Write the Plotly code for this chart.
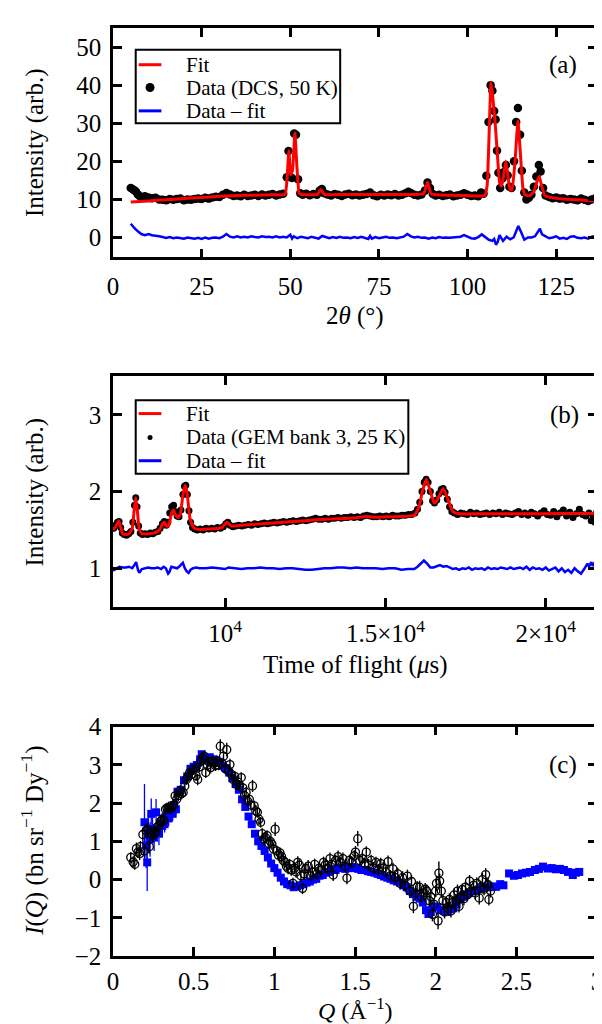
import plotly.graph_objects as go

# ---------------- panel (a): DCS, 50 K ----------------
tth_data = [5, 5.5, 6, 6.5, 7, 7.5, 8, 9, 10, 11,
            12, 13, 14, 15, 16, 17, 18, 19, 20, 21,
            22, 23, 24, 25, 26, 27, 28, 29, 30, 31,
            32, 33, 34, 35, 36, 37, 38, 39, 40, 41,
            42, 43, 44, 45, 46, 47, 48, 49.0, 49.5, 50.0,
            50.5, 51.1, 51.6, 52.2, 52.8, 53.5, 54.5, 55.5, 56.5, 57.5,
            58.3, 58.9, 59.6, 60.5, 61.5, 62.5, 63.5, 64.5, 65.5, 66.5,
            67.5, 68.5, 69.5, 70.5, 71.5, 72.5, 73.5, 74.5, 75.5, 76.5,
            77.5, 78.5, 79.5, 80.5, 81.5, 82.5, 83.3, 84, 85, 86,
            87, 88, 88.7, 89.4, 90.2, 91, 92, 93, 94, 95,
            96, 97, 98, 99, 100, 101, 102, 103, 103.8, 104.5,
            105.3, 105.9, 106.5, 107.0, 107.5, 107.9, 108.3, 108.7, 109.2, 109.8,
            110.3, 110.8, 111.3, 111.8, 112.4, 113.1, 113.7, 114.2, 114.8, 115.3,
            116.0, 116.6, 117.3, 118.0, 118.7, 119.4, 120.1, 120.6, 121.3, 122.0,
            123, 124, 125, 126, 127, 128, 129, 130, 131, 132,
            133, 134, 135, 136]
int_data = [13.0, 12.7, 12.4, 12.0, 11.3, 10.9, 10.6, 10.8, 10.5, 10.3,
            10.4, 10.0, 9.9, 9.8, 10.1, 9.9, 10.1, 10.2, 9.8, 10.0,
            9.9, 10.1, 10.2, 10.1, 10.4, 10.2, 10.5, 10.7, 10.6, 11.2,
            11.7, 11.3, 10.9, 11.0, 10.8, 11.2, 10.9, 11.0, 11.2, 10.9,
            11.3, 11.0, 11.2, 11.4, 11.0, 11.3, 11.5, 15.8, 22.7, 15.9,
            15.6, 27.3, 27.0, 15.3, 11.6, 11.2, 11.5, 11.1, 11.4, 11.2,
            12.3, 12.7, 11.6, 11.3, 11.0, 11.4, 11.2, 10.9, 11.3, 11.5,
            11.1, 11.3, 11.0, 11.2, 11.4, 11.8, 11.1, 10.8, 11.2, 11.0,
            11.3, 11.1, 11.4, 11.0, 11.2, 11.6, 12.0, 11.7, 11.2, 11.0,
            11.3, 12.3, 14.4, 13.0, 11.4, 11.0, 11.2, 10.9, 11.1, 11.3,
            10.8, 11.0, 11.2, 11.6, 11.2, 10.9, 11.0, 10.8, 11.8, 11.5,
            16.2, 30.3, 40.0, 38.5, 33.2, 31.0, 22.8, 17.0, 13.0, 15.5,
            17.2, 19.0, 16.3, 13.3, 13.0, 20.0, 30.3, 34.0, 27.0, 17.5,
            11.8, 10.0, 10.4, 11.2, 13.3, 16.0, 19.0, 17.3, 13.0, 11.0,
            10.6, 10.3, 10.5, 10.2, 10.3, 9.9, 10.1, 10.0, 9.8, 10.2,
            9.9, 9.6, 10.0, 10.3]

tth_fit = [5, 10, 15, 20, 25, 30, 35, 40, 45, 48.5,
           49.1, 49.6, 50.1, 50.6, 51.3, 51.9, 52.5, 53, 57.6, 58.6,
           59.6, 65, 75, 85, 87.6, 88.7, 89.8, 95, 100, 104.8,
           105.5, 106.0, 106.6, 107.1, 107.7, 108.4, 109.1, 109.6, 110.2, 110.8,
           111.4, 112.0, 112.5, 113.3, 114.2, 114.9, 115.6, 116.2, 117.5, 118.7,
           119.5, 120.2, 120.9, 121.8, 123, 127, 131, 136.5]
int_fit = [9.3, 9.6, 9.9, 10.2, 10.5, 10.8, 11.0, 11.1, 11.2, 11.3,
           15.5, 22.8, 16.5, 17.5, 27.4, 18.0, 11.6, 11.3, 11.3, 12.6,
           11.3, 11.3, 11.3, 11.3, 11.5, 14.5, 11.4, 11.1, 11.0, 11.0,
           13.5, 25.0, 40.7, 37.0, 31.0, 22.0, 14.0, 13.5, 16.5, 20.0,
           16.0, 12.5, 12.5, 19.0, 30.5, 22.0, 13.0, 11.2, 11.0, 12.0,
           14.5, 16.1, 13.5, 11.0, 10.6, 10.1, 9.9, 9.5]

tth_diff = [5, 5.5, 6, 7, 8, 9, 10, 11, 12, 13,
            14, 15, 16, 17, 18, 19, 20, 21, 22, 23,
            24, 25, 26, 27, 28, 29, 30, 31, 32, 33,
            34, 35, 36, 37, 38, 39, 40, 41, 42, 43,
            44, 45, 46, 47, 48, 49, 50, 50.5, 51, 52,
            53, 54, 55, 56, 57, 58, 59, 60, 61, 62,
            63, 64, 65, 66, 67, 68, 69, 70, 71, 72,
            72.5, 73, 74, 75, 76, 77, 78, 79, 80, 81,
            82, 83, 84, 85, 86, 87, 88, 89, 90, 91,
            92, 93, 94, 95, 96, 97, 98, 99, 100, 101,
            102, 103, 104, 105, 106, 107, 107.5, 108, 108.5, 109,
            109.5, 110, 111, 112, 113, 113.8, 114.3, 115, 116, 117,
            118, 119, 119.8, 120.4, 121, 122, 123, 124, 125, 126,
            127, 128, 129, 130, 131, 132, 133, 134, 135, 136]
int_diff = [3.6, 3.0, 2.5, 1.6, 0.9, 0.6, 0.9, 0.6, 0.5, 0.3,
            0.1, -0.1, 0.1, -0.2, 0.0, -0.1, -0.3, 0.0, -0.2, -0.3,
            -0.1, -0.4, 0.0, -0.3, -0.1, 0.0, -0.2, 0.2, 0.9, 0.2,
            0.0, 0.3, 0.0, 0.2, 0.0, 0.3, 0.1, 0.0, 0.3, 0.1,
            0.2, 0.0, 0.3, 0.0, 0.2, 0.0, 0.7, -0.3, 0.3, -0.2,
            0.2, 0.0, -0.2, 0.2, 0.0, -0.3, 0.4, 0.0, -0.2, 0.1,
            -0.1, 0.2, -0.1, 0.0, -0.2, 0.1, -0.1, 0.2, 0.0, -0.4,
            0.4, -0.3, 0.1, -0.2, 0.0, 0.2, -0.1, 0.0, -0.2, 0.1,
            0.2, 0.9, 0.3, 0.0, 0.2, -0.1, 0.0, -0.3, 0.0, -0.2,
            0.1, -0.1, 0.0, -0.1, 0.0, 0.1, 0.2, 0.6, 0.1, -0.2,
            -0.3, 0.1, 0.8, 0.2, -0.6, -0.9, -0.4, -1.9, -1.2, 0.6,
            -0.3, -0.9, 0.2, -0.5, 0.0, 2.2, 3.0, 1.6, -0.6, 0.0,
            0.0, 0.3, 1.6, 2.3, 0.8, 0.3, -0.2, 0.0, 0.3, -0.3,
            -0.1, -0.4, 0.2, 0.3, -0.1, -0.2, 0.0, -0.3, 0.2, 0.4]

# ---------------- panel (b): GEM bank 3, 25 K ----------------
tof_data = [6520, 6580, 6640, 6690, 6740, 6790, 6850, 6920, 6990, 7060,
            7120, 7170, 7210, 7250, 7300, 7350, 7420, 7500, 7580, 7660,
            7740, 7820, 7900, 7970, 8040, 8100, 8160, 8210, 8270, 8330,
            8390, 8440, 8500, 8560, 8620, 8680, 8730, 8770, 8820, 8870,
            8920, 8980, 9050, 9130, 9220, 9310, 9400, 9490, 9580, 9670,
            9760, 9850, 9940, 10020, 10080, 10150, 10240, 10330, 10420, 10520,
            10620, 10720, 10820, 10920, 11020, 11120, 11220, 11320, 11420, 11520,
            11620, 11720, 11820, 11920, 12020, 12120, 12220, 12320, 12420, 12520,
            12620, 12720, 12820, 12920, 13020, 13120, 13220, 13320, 13420, 13520,
            13620, 13720, 13820, 13920, 14020, 14120, 14220, 14320, 14420, 14520,
            14620, 14720, 14820, 14920, 15020, 15120, 15220, 15320, 15420, 15520,
            15620, 15720, 15820, 15920, 16000, 16070, 16140, 16210, 16270, 16330,
            16400, 16470, 16530, 16600, 16670, 16740, 16800, 16860, 16930, 17000,
            17070, 17150, 17250, 17350, 17450, 17550, 17650, 17750, 17850, 17950,
            18050, 18150, 18250, 18350, 18450, 18550, 18650, 18750, 18850, 18950,
            19050, 19150, 19250, 19350, 19450, 19550, 19650, 19750, 19850, 19950,
            20050, 20150, 20250, 20350, 20450, 20550, 20650, 20750, 20850, 20950,
            21050, 21150, 21250, 21350, 21420, 21480, 21540, 21590]
gem_data = [1.52, 1.56, 1.60, 1.61, 1.53, 1.46, 1.44, 1.43, 1.45, 1.48,
            1.60, 1.82, 1.92, 1.80, 1.55, 1.46, 1.44, 1.45, 1.44, 1.46,
            1.45, 1.47, 1.48, 1.52, 1.58, 1.61, 1.56, 1.60, 1.72, 1.80,
            1.82, 1.74, 1.68, 1.67, 1.76, 1.96, 2.07, 2.08, 1.96, 1.75,
            1.60, 1.53, 1.51, 1.50, 1.51, 1.50, 1.52, 1.51, 1.52, 1.51,
            1.53, 1.52, 1.54, 1.58, 1.60, 1.56, 1.54, 1.55, 1.56, 1.55,
            1.56, 1.57, 1.56, 1.58, 1.57, 1.58, 1.59, 1.58, 1.59, 1.60,
            1.59, 1.60, 1.61, 1.60, 1.61, 1.62, 1.61, 1.62, 1.63, 1.62,
            1.63, 1.64, 1.65, 1.64, 1.64, 1.65, 1.64, 1.65, 1.65, 1.66,
            1.65, 1.66, 1.66, 1.67, 1.66, 1.67, 1.66, 1.68, 1.69, 1.68,
            1.67, 1.67, 1.68, 1.67, 1.68, 1.67, 1.69, 1.68, 1.68, 1.69,
            1.69, 1.70, 1.70, 1.72, 1.77, 1.86, 2.00, 2.12, 2.16, 2.12,
            2.00, 1.88, 1.85, 1.89, 1.97, 2.03, 2.04, 1.99, 1.90, 1.80,
            1.74, 1.72, 1.70, 1.72, 1.71, 1.70, 1.73, 1.71, 1.72, 1.70,
            1.71, 1.72, 1.70, 1.72, 1.71, 1.73, 1.70, 1.72, 1.71, 1.70,
            1.72, 1.74, 1.70, 1.72, 1.69, 1.73, 1.71, 1.68, 1.72, 1.75,
            1.70, 1.69, 1.74, 1.67, 1.72, 1.76, 1.68, 1.73, 1.66, 1.71,
            1.77, 1.70, 1.68, 1.72, 1.62, 1.65, 1.60, 1.73]

tof_fit = [6500, 6600, 6680, 6750, 6800, 6900, 7000, 7100, 7170, 7212,
           7260, 7320, 7400, 7600, 7800, 7950, 8050, 8100, 8160, 8230,
           8330, 8390, 8450, 8530, 8600, 8680, 8755, 8820, 8900, 9000,
           9100, 9500, 9900, 10050, 10200, 10500, 11000, 11500, 12000, 12500,
           13000, 13500, 14000, 14400, 14700, 15000, 15500, 15900, 16050, 16150,
           16280, 16400, 16520, 16600, 16800, 16950, 17100, 17300, 18000, 19000,
           20000, 21000, 21600]
gem_fit = [1.50, 1.55, 1.62, 1.52, 1.45, 1.44, 1.45, 1.52, 1.80, 1.92,
           1.75, 1.50, 1.45, 1.45, 1.46, 1.50, 1.58, 1.60, 1.55, 1.55,
           1.72, 1.76, 1.70, 1.66, 1.70, 1.95, 2.08, 1.95, 1.65, 1.54,
           1.51, 1.51, 1.53, 1.60, 1.55, 1.56, 1.575, 1.59, 1.605, 1.62,
           1.635, 1.645, 1.655, 1.675, 1.665, 1.67, 1.675, 1.69, 1.80, 2.00,
           2.16, 2.00, 1.85, 1.88, 2.04, 1.90, 1.74, 1.71, 1.71, 1.71,
           1.71, 1.715, 1.715]

tof_diff = [6500, 6600, 6700, 6800, 6900, 7000, 7100, 7180, 7220, 7280,
            7320, 7400, 7500, 7600, 7700, 7800, 7900, 8000, 8080, 8150,
            8220, 8260, 8320, 8400, 8500, 8560, 8620, 8680, 8740, 8800,
            8860, 8920, 9000, 9100, 9200, 9400, 9600, 9800, 10000, 10100,
            10300, 10500, 10700, 10900, 11100, 11300, 11500, 11700, 11900, 12100,
            12300, 12500, 12700, 12900, 13100, 13300, 13500, 13700, 13900, 14100,
            14300, 14500, 14700, 14900, 15100, 15300, 15500, 15700, 15900, 16000,
            16100, 16200, 16300, 16400, 16500, 16600, 16700, 16800, 16900, 17000,
            17100, 17200, 17300, 17400, 17500, 17600, 17700, 17800, 17900, 18000,
            18100, 18200, 18300, 18400, 18500, 18600, 18700, 18800, 18900, 19000,
            19100, 19200, 19300, 19400, 19500, 19600, 19700, 19800, 19900, 20000,
            20100, 20200, 20300, 20400, 20500, 20600, 20700, 20800, 20900, 21000,
            21100, 21200, 21300, 21350, 21420, 21470, 21530, 21600]
gem_diff = [0.97, 0.99, 1.02, 1.01, 1.01, 1.02, 1.00, 1.05, 1.08, 0.98,
            0.94, 0.99, 1.00, 1.01, 1.00, 1.00, 1.01, 0.99, 1.02, 1.00,
            0.93, 0.95, 1.02, 1.01, 1.00, 1.02, 1.05, 1.07, 1.00, 0.96,
            0.94, 0.98, 1.00, 1.01, 1.00, 1.00, 1.01, 1.00, 0.99, 1.01,
            1.00, 0.99, 1.00, 1.00, 1.01, 1.00, 1.00, 0.99, 1.00, 1.00,
            0.99, 0.98, 0.98, 0.99, 1.00, 1.00, 1.01, 1.01, 1.00, 1.01,
            1.00, 1.00, 1.00, 0.99, 1.00, 1.00, 0.98, 0.99, 0.99, 1.02,
            1.06, 1.10, 1.06, 1.01, 1.01, 1.03, 1.04, 1.02, 1.03, 1.01,
            0.99, 1.00, 0.98, 1.00, 0.99, 1.01, 0.98, 1.00, 0.99, 1.00,
            0.98, 1.01, 0.99, 1.00, 0.99, 1.01, 1.00, 0.99, 1.01, 0.99,
            1.00, 1.01, 0.99, 1.02, 0.98, 1.01, 0.99, 1.00, 0.98, 1.01,
            0.97, 0.99, 1.01, 0.96, 1.00, 0.95, 0.98, 0.94, 1.00, 0.96,
            0.93, 0.99, 1.06, 1.02, 1.08, 1.03, 1.08, 0.98]
tof_tickvals = [10000, 15000, 20000]
tof_ticktext = ["10<sup>4</sup>", "1.5×10<sup>4</sup>", "2×10<sup>4</sup>"]

# ---------------- panel (c): I(Q) ----------------
q_gem = [0.195, 0.205, 0.212, 0.22, 0.23, 0.237, 0.245, 0.255, 0.267, 0.275,
         0.285, 0.295, 0.305, 0.32, 0.335, 0.345, 0.355, 0.37, 0.38, 0.39,
         0.40, 0.42, 0.44, 0.46, 0.48, 0.50, 0.52, 0.54, 0.55, 0.56,
         0.58, 0.60, 0.62, 0.64, 0.66, 0.68, 0.70, 0.72, 0.74, 0.76,
         0.78, 0.80, 0.82, 0.84, 0.86, 0.88, 0.90, 0.92, 0.94, 0.96,
         0.98, 1.00, 1.02, 1.04, 1.06, 1.08, 1.10, 1.12, 1.14, 1.16,
         1.18, 1.20, 1.22, 1.24, 1.26, 1.28, 1.30, 1.32, 1.34, 1.36,
         1.38, 1.40, 1.42, 1.44, 1.46, 1.48, 1.50, 1.52, 1.54, 1.56,
         1.58, 1.60, 1.62, 1.64, 1.66, 1.68, 1.70, 1.72, 1.74, 1.76,
         1.78, 1.80, 1.82, 1.84, 1.86, 1.88, 1.90, 1.92, 1.94, 1.955,
         1.97, 1.99, 2.01, 2.03, 2.05, 2.07, 2.09, 2.11, 2.13, 2.15,
         2.17, 2.19, 2.21, 2.23, 2.25, 2.27, 2.29, 2.31, 2.33, 2.35,
         2.375, 2.40, 2.42, 2.455, 2.485, 2.51, 2.535, 2.56, 2.585, 2.615,
         2.64, 2.665, 2.695, 2.72, 2.745, 2.77, 2.795, 2.82, 2.85, 2.87,
         2.89]
iq_gem = [1.50, 0.90, 0.45, 1.20, 1.05, 1.72, 1.30, 1.10, 1.76, 1.30,
          1.20, 1.45, 1.40, 1.45, 1.75, 1.60, 1.85, 1.72, 1.95, 1.84,
          2.30, 2.35, 2.60, 2.70, 2.90, 2.95, 3.00, 3.15, 3.28, 3.20,
          3.12, 3.20, 3.15, 3.12, 3.05, 2.98, 2.92, 2.80, 2.65, 2.50,
          2.35, 2.10, 1.90, 1.65, 1.45, 1.20, 1.00, 0.88, 0.75, 0.58,
          0.42, 0.30, 0.18, 0.05, -0.05, -0.12, -0.15, -0.20, -0.18, -0.15,
          -0.12, -0.08, -0.05, 0.00, 0.02, 0.10, 0.12, 0.18, 0.20, 0.28,
          0.25, 0.30, 0.32, 0.28, 0.30, 0.33, 0.30, 0.28, 0.25, 0.25,
          0.22, 0.20, 0.18, 0.15, 0.12, 0.08, 0.05, 0.02, -0.02, -0.05,
          -0.08, -0.15, -0.20, -0.30, -0.38, -0.45, -0.50, -0.60, -0.80, -0.90,
          -0.85, -0.70, -0.72, -0.80, -0.82, -0.85, -0.78, -0.75, -0.65, -0.50,
          -0.45, -0.40, -0.35, -0.30, -0.28, -0.25, -0.22, -0.20, -0.20, -0.18,
          -0.19, -0.12, -0.15, 0.16, 0.10, 0.12, 0.16, 0.18, 0.20, 0.25,
          0.28, 0.34, 0.29, 0.30, 0.27, 0.28, 0.25, 0.20, 0.12, 0.18,
          0.20]
iq_gem_err = [1.00, 0.60, 0.75, 0.50, 0.45, 0.40, 0.35, 0.35, 0.35, 0.30,
              0.30, 0.25, 0.25, 0.22, 0.20, 0.20, 0.20, 0.18, 0.16, 0.15,
              0.14, 0.12, 0.11, 0.10, 0.10, 0.09, 0.09, 0.09, 0.08, 0.08,
              0.08, 0.08, 0.08, 0.08, 0.08, 0.08, 0.08, 0.08, 0.08, 0.08,
              0.08, 0.08, 0.08, 0.08, 0.08, 0.08, 0.08, 0.08, 0.08, 0.08,
              0.08, 0.08, 0.08, 0.08, 0.08, 0.08, 0.08, 0.08, 0.08, 0.08,
              0.08, 0.08, 0.08, 0.08, 0.08, 0.08, 0.08, 0.08, 0.08, 0.08,
              0.08, 0.08, 0.08, 0.08, 0.08, 0.08, 0.08, 0.08, 0.08, 0.08,
              0.08, 0.08, 0.08, 0.08, 0.08, 0.08, 0.08, 0.08, 0.08, 0.08,
              0.08, 0.08, 0.08, 0.08, 0.08, 0.08, 0.08, 0.08, 0.08, 0.08,
              0.08, 0.08, 0.08, 0.08, 0.08, 0.08, 0.08, 0.08, 0.08, 0.08,
              0.08, 0.08, 0.08, 0.08, 0.08, 0.08, 0.08, 0.08, 0.08, 0.08,
              0.06, 0.06, 0.06, 0.06, 0.06, 0.06, 0.06, 0.06, 0.06, 0.06,
              0.06, 0.06, 0.06, 0.06, 0.06, 0.06, 0.06, 0.06, 0.06, 0.06,
              0.06]

q_dcs = [0.11, 0.125, 0.135, 0.145, 0.155, 0.165, 0.17, 0.185, 0.195, 0.205,
         0.215, 0.225, 0.235, 0.245, 0.255, 0.265, 0.275, 0.285, 0.295, 0.305,
         0.315, 0.325, 0.335, 0.345, 0.355, 0.365, 0.375, 0.385, 0.395, 0.405,
         0.415, 0.425, 0.435, 0.445, 0.455, 0.465, 0.475, 0.485, 0.495, 0.505,
         0.515, 0.525, 0.535, 0.545, 0.555, 0.565, 0.575, 0.585, 0.595, 0.605,
         0.615, 0.625, 0.635, 0.645, 0.655, 0.665, 0.675, 0.685, 0.695, 0.705,
         0.715, 0.725, 0.735, 0.745, 0.755, 0.765, 0.775, 0.785, 0.795, 0.805,
         0.815, 0.825, 0.835, 0.845, 0.855, 0.865, 0.875, 0.885, 0.895, 0.905,
         0.915, 0.925, 0.935, 0.945, 0.955, 0.965, 0.975, 0.985, 0.995, 1.005,
         1.015, 1.025, 1.035, 1.045, 1.055, 1.065, 1.075, 1.085, 1.095, 1.105,
         1.115, 1.125, 1.135, 1.145, 1.155, 1.165, 1.175, 1.185, 1.195, 1.21,
         1.225, 1.235, 1.25, 1.265, 1.275, 1.29, 1.305, 1.315, 1.33, 1.345,
         1.355, 1.365, 1.38, 1.395, 1.41, 1.425, 1.44, 1.45, 1.465, 1.48,
         1.495, 1.503, 1.517, 1.53, 1.545, 1.56, 1.57, 1.585, 1.6, 1.615,
         1.63, 1.645, 1.66, 1.675, 1.69, 1.705, 1.72, 1.735, 1.75, 1.765,
         1.78, 1.795, 1.81, 1.825, 1.84, 1.85, 1.862, 1.875, 1.885, 1.9,
         1.91, 1.925, 1.935, 1.945, 1.96, 1.97, 1.98, 1.99, 2.0, 2.005,
         2.015, 2.02, 2.025, 2.035, 2.045, 2.055, 2.065, 2.075, 2.085, 2.095,
         2.105, 2.115, 2.125, 2.135, 2.145, 2.155, 2.165, 2.175, 2.185, 2.195,
         2.21, 2.22, 2.235, 2.245, 2.255, 2.27, 2.28, 2.29, 2.3, 2.31,
         2.32, 2.325, 2.33, 2.34]
iq_dcs = [0.58, 0.46, 0.40, 0.81, 0.72, 0.68, 0.86, 1.18, 0.75, 1.28,
          1.32, 0.86, 1.20, 1.15, 1.22, 1.24, 1.38, 1.41, 1.52, 1.58,
          1.55, 1.84, 1.87, 1.89, 1.85, 1.89, 1.95, 2.19, 2.10, 2.20,
          2.32, 2.25, 2.28, 2.45, 2.62, 2.70, 2.80, 2.75, 2.88, 2.90,
          2.72, 2.62, 2.95, 3.10, 3.18, 3.23, 2.80, 3.00, 3.08, 2.93,
          3.10, 3.05, 2.98, 3.10, 3.00, 3.49, 3.05, 3.23, 2.90, 3.40,
          2.85, 3.01, 2.75, 2.62, 2.70, 2.49, 2.55, 2.45, 2.67, 2.40,
          2.20, 2.28, 2.05, 2.10, 1.95, 2.45, 1.93, 1.80, 1.76, 1.58,
          1.50, 1.20, 1.06, 1.10, 1.15, 0.95, 1.00, 0.93, 0.80, 1.32,
          0.75, 0.64, 0.70, 0.60, 0.50, 0.46, 0.35, 0.29, 0.40, 0.25,
          -0.10, 0.30, 0.20, 0.45, 0.38, 0.10, -0.23, 0.15, 0.29, 0.35,
          0.10, 0.20, 0.40, 0.15, 0.29, 0.25, 0.45, 0.38, 0.30, 0.55,
          0.40, 0.12, 0.50, 0.60, 0.45, 0.55, 0.35, 0.04, 0.50, 0.45,
          0.62, 0.72, 1.07, 0.50, 0.55, 0.42, 0.72, 0.38, 0.50, 0.30,
          0.45, 0.25, 0.42, 0.30, 0.20, 0.47, 0.10, 0.28, 0.05, 0.15,
          -0.10, 0.05, -0.15, 0.09, -0.30, -0.05, -0.70, -0.35, -0.20, -0.20,
          -0.45, -0.35, -0.25, -0.30, -0.55, -0.45, -0.91, -0.65, -0.30, -0.10,
          -1.08, 0.17, -0.04, -0.30, -0.55, -0.85, -0.60, -0.75, -0.52, -0.82,
          -0.60, -0.40, -0.55, -0.30, -0.70, -0.45, -0.26, -0.50, -0.20, -0.40,
          -0.04, -0.30, -0.15, -0.35, -0.10, -0.48, -0.20, 0.00, -0.25, 0.13,
          -0.15, -0.13, -0.52, -0.30]
iq_dcs_err = [0.14, 0.15, 0.14, 0.16, 0.15, 0.17, 0.15, 0.18, 0.16, 0.18,
              0.17, 0.18, 0.16, 0.17, 0.16, 0.16, 0.15, 0.16, 0.15, 0.16,
              0.15, 0.15, 0.14, 0.15, 0.14, 0.15, 0.14, 0.16, 0.14, 0.15,
              0.14, 0.15, 0.14, 0.15, 0.14, 0.15, 0.14, 0.15, 0.14, 0.15,
              0.14, 0.15, 0.14, 0.15, 0.14, 0.15, 0.14, 0.15, 0.14, 0.15,
              0.14, 0.15, 0.14, 0.15, 0.14, 0.18, 0.14, 0.15, 0.14, 0.18,
              0.14, 0.15, 0.14, 0.15, 0.14, 0.15, 0.14, 0.15, 0.14, 0.15,
              0.14, 0.15, 0.14, 0.15, 0.14, 0.16, 0.14, 0.15, 0.14, 0.15,
              0.14, 0.15, 0.14, 0.15, 0.14, 0.15, 0.14, 0.15, 0.14, 0.18,
              0.14, 0.15, 0.14, 0.15, 0.14, 0.15, 0.14, 0.15, 0.14, 0.15,
              0.15, 0.16, 0.15, 0.16, 0.15, 0.16, 0.15, 0.16, 0.15, 0.16,
              0.15, 0.16, 0.15, 0.16, 0.15, 0.16, 0.15, 0.16, 0.15, 0.16,
              0.15, 0.16, 0.15, 0.16, 0.15, 0.16, 0.15, 0.16, 0.15, 0.16,
              0.15, 0.16, 0.20, 0.16, 0.15, 0.16, 0.15, 0.16, 0.15, 0.16,
              0.15, 0.16, 0.15, 0.16, 0.15, 0.16, 0.15, 0.16, 0.15, 0.16,
              0.16, 0.17, 0.16, 0.17, 0.16, 0.17, 0.18, 0.17, 0.16, 0.17,
              0.16, 0.17, 0.16, 0.17, 0.16, 0.17, 0.18, 0.17, 0.16, 0.20,
              0.22, 0.30, 0.20, 0.17, 0.16, 0.17, 0.16, 0.17, 0.16, 0.17,
              0.16, 0.17, 0.16, 0.17, 0.16, 0.17, 0.16, 0.17, 0.16, 0.17,
              0.16, 0.17, 0.16, 0.17, 0.16, 0.17, 0.16, 0.17, 0.16, 0.17,
              0.16, 0.17, 0.16, 0.17]

# ---------------- styling ----------------
FONT = "Liberation Serif"
W, H = 602, 1024
ML, MR, MT, MB = 105, 7, 13, 76


def fx(px):
    # pixel column -> paper x
    return (px - ML) / (W - ML - MR)


def fy(py):
    # pixel row -> paper y
    return (H - MB - py) / (H - MT - MB)


fig = go.Figure()

# (a)
fig.add_trace(go.Scatter(x=tth_data, y=int_data, mode="markers", xaxis="x", yaxis="y",
                         marker=dict(color="black", size=8.5)))
fig.add_trace(go.Scatter(x=tth_fit, y=int_fit, mode="lines", xaxis="x", yaxis="y",
                         line=dict(color="#ff0000", width=3, shape="spline", smoothing=0.4)))
fig.add_trace(go.Scatter(x=tth_diff, y=int_diff, mode="lines", xaxis="x", yaxis="y",
                         line=dict(color="#0000ff", width=2.5)))

# (b)
fig.add_trace(go.Scatter(x=tof_data, y=gem_data, mode="markers", xaxis="x2", yaxis="y2",
                         marker=dict(color="black", size=7)))
fig.add_trace(go.Scatter(x=tof_fit, y=gem_fit, mode="lines", xaxis="x2", yaxis="y2",
                         line=dict(color="#ff0000", width=3, shape="spline", smoothing=0.4)))
fig.add_trace(go.Scatter(x=tof_diff, y=gem_diff, mode="lines", xaxis="x2", yaxis="y2",
                         line=dict(color="#0000ff", width=2.5)))

# (c)
fig.add_trace(go.Scatter(x=q_gem, y=iq_gem, mode="markers", xaxis="x3", yaxis="y3",
                         marker=dict(color="#0000ff", size=8, symbol="square"),
                         error_y=dict(type="data", array=iq_gem_err, color="#0000ff",
                                      thickness=1.3, width=0)))
fig.add_trace(go.Scatter(x=q_dcs, y=iq_dcs, mode="markers", xaxis="x3", yaxis="y3",
                         marker=dict(color="black", size=8, symbol="circle-open",
                                     line=dict(width=1.3)),
                         error_y=dict(type="data", array=iq_dcs_err, color="black",
                                      thickness=1.4, width=0)))

axis_style = dict(showline=True, linecolor="black", linewidth=2.5, mirror="ticks",
                  ticks="inside", ticklen=9, tickwidth=2.5, tickcolor="black",
                  showgrid=False, zeroline=False,
                  tickfont=dict(family=FONT, size=25, color="black"))

fig.update_layout(
    width=W, height=H,
    margin=dict(l=ML, r=MR, t=MT, b=MB),
    paper_bgcolor="white", plot_bgcolor="white",
    showlegend=False,
    font=dict(family=FONT, color="black"),
    xaxis=dict(axis_style, domain=[0, 1], anchor="y", range=[0, 136.5],
               tick0=0, dtick=25, ticklabelstandoff=5),
    yaxis=dict(axis_style, domain=[fy(244), 1], anchor="x", range=[-5.2, 55],
               tick0=0, dtick=10, ticklabelstandoff=4),
    xaxis2=dict(axis_style, domain=[0, 1], anchor="y2", range=[6500, 21600],
                tickvals=tof_tickvals, ticktext=tof_ticktext, ticklabelstandoff=3),
    yaxis2=dict(axis_style, domain=[fy(596), fy(364)], anchor="x2", range=[0.5, 3.5],
                tick0=0, dtick=1, ticklabelstandoff=4),
    xaxis3=dict(axis_style, domain=[0, 1], anchor="y3", range=[0, 3],
                tick0=0, dtick=0.5, ticklabelstandoff=1),
    yaxis3=dict(axis_style, domain=[0, fy(717)], anchor="x3", range=[-2, 4],
                tick0=0, dtick=1, ticklabelstandoff=4),
)

# axis titles and panel labels
titles = [
    ("2<i>θ</i> (°)", 350, 303, 0, 25),
    ("Intensity (arb.)", 26, 128, -90, 25),
    ("Time of flight (<i>μ</i>s)", 350, 655, 0, 25),
    ("Intensity (arb.)", 26, 480, -90, 25),
    ("<i>Q</i> (Å<sup>−1</sup>)", 350, 1001, 0, 24),
    ("<i>I</i>(<i>Q</i>) (bn sr<sup>−1</sup> Dy<sup>−1</sup>)", 24, 832, -90, 25),
]
for text, px, py, ang, size in titles:
    fig.add_annotation(text=text, x=fx(px), y=fy(py), xref="paper", yref="paper",
                       showarrow=False, textangle=ang, xanchor="center", yanchor="middle",
                       borderpad=0, font=dict(family=FONT, size=size, color="black"))

for text, px, py in [("(a)", 561, 50), ("(b)", 562, 403), ("(c)", 561, 756)]:
    fig.add_annotation(text=text, x=fx(px), y=fy(py), xref="paper", yref="paper",
                       showarrow=False, xanchor="center", yanchor="middle",
                       font=dict(family=FONT, size=25, color="black"))

# legends (boxed, three rows each)
legends = [
    (128, 335, 35, 109, [50, 73, 96.5],
     ["Fit", "Data (DCS, 50 K)", "Data – fit"], 4.5),
    (128, 404, 388, 462, [401.5, 425.5, 449],
     ["Fit", "Data (GEM bank 3, 25 K)", "Data – fit"], 2.5),
]
for x0, x1, y0, y1, rows, labels, dot in legends:
    fig.add_shape(type="rect", xref="paper", yref="paper",
                  x0=fx(x0), x1=fx(x1), y0=fy(y1), y1=fy(y0),
                  line=dict(color="black", width=2), fillcolor="white")
    fig.add_shape(type="line", xref="paper", yref="paper",
                  x0=fx(131), x1=fx(154), y0=fy(rows[0]), y1=fy(rows[0]),
                  line=dict(color="#ff0000", width=3))
    fig.add_shape(type="circle", xref="paper", yref="paper",
                  xsizemode="pixel", ysizemode="pixel",
                  xanchor=fx(142.5), yanchor=fy(rows[1]),
                  x0=-dot, x1=dot, y0=-dot, y1=dot,
                  fillcolor="black", line=dict(color="black", width=0))
    fig.add_shape(type="line", xref="paper", yref="paper",
                  x0=fx(131), x1=fx(154), y0=fy(rows[2]), y1=fy(rows[2]),
                  line=dict(color="#0000ff", width=3))
    for label, ry in zip(labels, rows):
        fig.add_annotation(text=label, x=fx(177), y=fy(ry), xref="paper", yref="paper",
                           showarrow=False, xanchor="left", yanchor="middle",
                           font=dict(family=FONT, size=21, color="black"))

fig.write_html("out.html")
